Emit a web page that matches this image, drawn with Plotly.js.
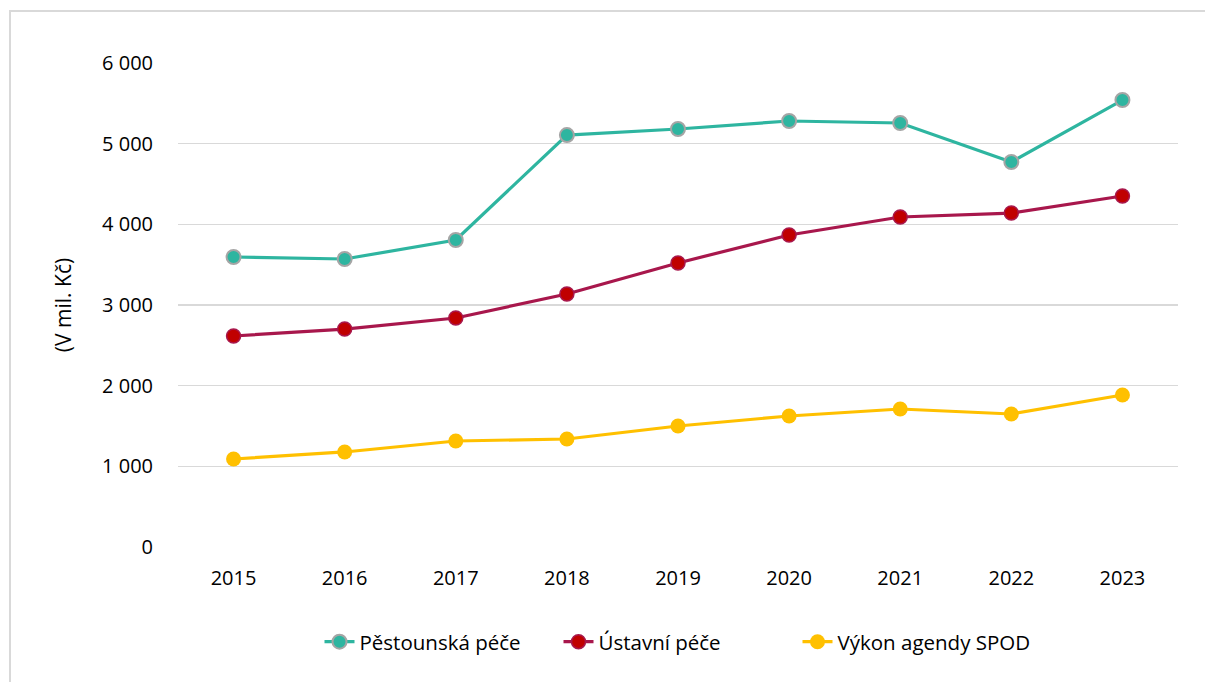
<!DOCTYPE html>
<html><head><meta charset="utf-8">
<script src="https://cdn.plot.ly/plotly-3.0.1.min.js"></script>
<style>
html,body{margin:0;padding:0;background:#fff;overflow:hidden;}
#frame{position:absolute;left:9px;top:10px;width:1300px;height:800px;border-left:2px solid #d9d9d9;border-top:2px solid #d9d9d9;pointer-events:none;z-index:5;}
#chart{position:absolute;left:0;top:0;width:1205px;height:682px;}
</style></head>
<body>
<div id="chart"></div>
<div id="frame"></div>
<script>
const years = ['2015','2016','2017','2018','2019','2020','2021','2022','2023'];
const pestounska = [3595, 3570, 3806, 5107, 5182, 5281, 5256, 4773, 5541];
const ustavni = [2616, 2702, 2839, 3136, 3521, 3868, 4091, 4140, 4351];
const spod = [1091, 1178, 1314, 1339, 1500, 1624, 1711, 1649, 1884];
const yTicks = [0, 1000, 2000, 3000, 4000, 5000, 6000];
const yTickText = ['0', '1 000', '2 000', '3 000', '4 000', '5 000', '6 000'];

const font = "'Open Sans', sans-serif";

const traces = [
  {x: years, y: pestounska, name: 'Pěstounská péče', type: 'scatter', mode: 'lines+markers',
   line: {color: '#2EB5A0', width: 3.2},
   marker: {color: '#2EB5A0', size: 14, line: {color: '#A5A5A5', width: 2}}},
  {x: years, y: ustavni, name: 'Ústavní péče', type: 'scatter', mode: 'lines+markers',
   line: {color: '#A8174C', width: 3.2},
   marker: {color: '#C00000', size: 14, line: {color: '#A8174C', width: 1.5}}},
  {x: years, y: spod, name: 'Výkon agendy SPOD', type: 'scatter', mode: 'lines+markers',
   line: {color: '#FFC000', width: 3.2},
   marker: {color: '#FFC000', size: 15, line: {color: '#FFC000', width: 0}}}
];

const layout = {
  width: 1205, height: 682,
  margin: {l: 178, r: 27, t: 63, b: 135},
  paper_bgcolor: '#fff', plot_bgcolor: '#fff',
  font: {family: font, size: 20, color: '#000'},
  showlegend: true,
  legend: {orientation: 'h', x: 0.5, xanchor: 'center', y: -0.196, yanchor: 'middle',
           font: {family: font, size: 20.5, color: '#000'}, itemwidth: 30, traceorder: 'normal',
           entrywidth: 194, entrywidthmode: 'pixels'},
  xaxis: {type: 'category', range: [-0.5, 8.5], showgrid: false, zeroline: false,
          showline: false, ticks: '', tickfont: {family: font, size: 20, color: '#000'}, ticklabelstandoff: 17},
  yaxis: {range: [0, 6000], tickvals: yTicks, ticktext: yTickText, showgrid: true,
          gridcolor: '#d9d9d9', gridwidth: 1.5, zeroline: false, showline: false, ticks: '',
          tickfont: {family: font, size: 20, color: '#000'}, ticklabelstandoff: 24,
          title: {text: '(V mil. Kč)', font: {family: font, size: 21, color: '#000'}, standoff: 24}}
};

Plotly.newPlot('chart', traces, layout, {displayModeBar: false, staticPlot: true});
</script>
</body></html>
